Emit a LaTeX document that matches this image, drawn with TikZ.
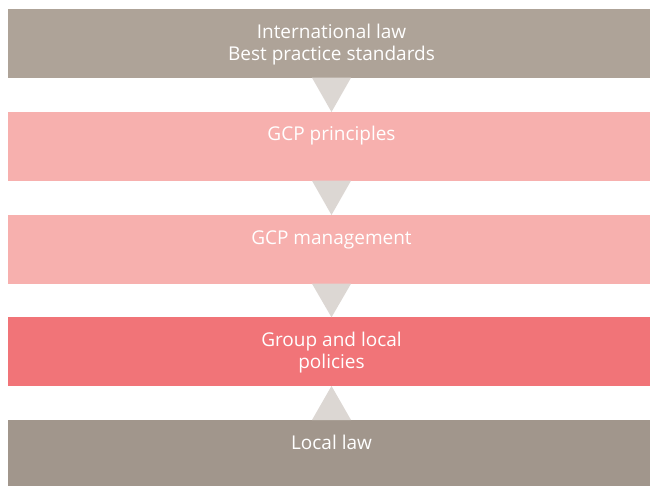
\documentclass[tikz,border=0pt]{standalone}
\usepackage{fontspec}
\setmainfont{Open Sans}
\usetikzlibrary{calc}
\definecolor{cgrayA}{RGB}{174,163,152}
\definecolor{cgrayB}{RGB}{161,150,140}
\definecolor{cpink}{RGB}{247,176,174}
\definecolor{cred}{RGB}{241,116,120}
\definecolor{ctri}{RGB}{220,215,211}
\tikzset{
  band/.style={anchor=north west, minimum width=642pt, minimum height=68.7pt, inner sep=0pt, outer sep=0pt, draw=none},
  label/.style={anchor=base, text=white, font=\fontsize{19}{22}\selectfont, align=center, inner sep=0pt},
  arrowtri/.style={fill=ctri, draw=none}
}
\begin{document}
\begin{tikzpicture}[x=1pt,y=-1pt]
\useasboundingbox[fill=white] (0,0) rectangle (650,486);
\clip (0,0) rectangle (650,486);
\node[band, fill=cgrayA] (b1) at (8,9) {};
\node[band, fill=cpink] (b2) at (8,112) {};
\node[band, fill=cpink] (b3) at (8,215) {};
\node[band, fill=cred] (b4) at (8,317.3) {};
\node[band, fill=cgrayB, minimum height=70pt] (b5) at (8,420) {};
\node[label] (t1) at (331.5,60.8) {International law\\Best practice standards};
\node[label] (t2) at (331.5,140.7) {GCP principles};
\node[label] (t3) at (331.5,244) {GCP management};
\node[label] (t4) at (331.5,368.5) {Group and local\\policies};
\node[label] (t5) at (331.5,449.3) {Local law};
\fill[arrowtri] ($(b1.south west)+(304,0)$) -- ($(b1.south west)+(343,0)$) -- ($(b2.north west)+(323.5,0)$) -- cycle;
\fill[arrowtri] ($(b2.south west)+(304,0)$) -- ($(b2.south west)+(343,0)$) -- ($(b3.north west)+(323.5,0)$) -- cycle;
\fill[arrowtri] ($(b3.south west)+(304,0)$) -- ($(b3.south west)+(343,0)$) -- ($(b4.north west)+(323.5,0)$) -- cycle;
\fill[arrowtri] ($(b5.north west)+(304,0)$) -- ($(b5.north west)+(343,0)$) -- ($(b4.south west)+(323.5,0)$) -- cycle;
\end{tikzpicture}
\end{document}
